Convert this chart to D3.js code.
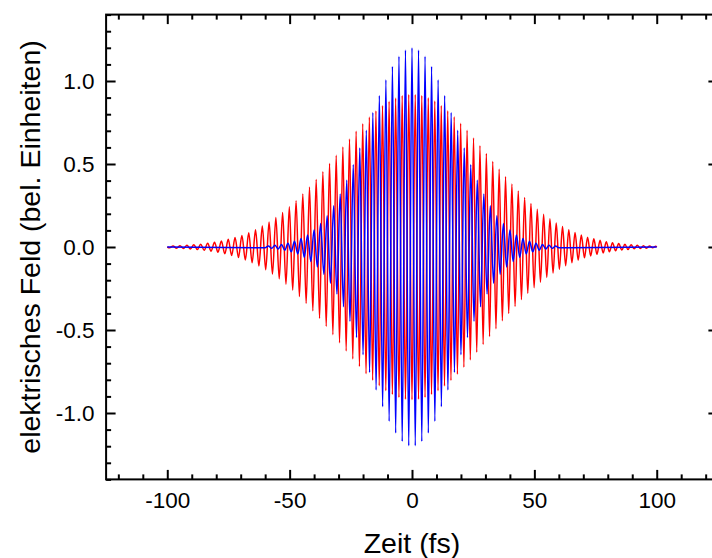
<!DOCTYPE html>
<html><head><meta charset="utf-8">
<script src="https://cdn.jsdelivr.net/npm/d3@7"></script>
<style>
body{margin:0;background:#fff;}
svg text{font-family:"Liberation Sans",Arial,sans-serif;fill:#000;}
</style>
</head><body>
<svg id="chart" width="712" height="558"></svg>
<script>
// ---- data (extrema of each oscillation, time in fs) ----
const blueTime = [-100, -60.01, -58.67, -57.34, -56.01, -54.67, -53.34, -52.01, -50.67, -49.34, -48.01, -46.67, -45.34, -44.01, -42.67, -41.34, -40.01, -38.67, -37.34, -36.01, -34.67, -33.34, -32.00, -30.67, -29.34, -28.00, -26.67, -25.34, -24.00, -22.67, -21.34, -20.00, -18.67, -17.34, -16.00, -14.67, -13.34, -12.00, -10.67, -9.34, -8.00, -6.67, -5.33, -4.00, -2.67, -1.33, 0, 1.33, 2.67, 4.00, 5.33, 6.67, 8.00, 9.34, 10.67, 12.00, 13.34, 14.67, 16.00, 17.34, 18.67, 20.00, 21.34, 22.67, 24.00, 25.34, 26.67, 28.00, 29.34, 30.67, 32.00, 33.34, 34.67, 36.01, 37.34, 38.67, 40.01, 41.34, 42.67, 44.01, 45.34, 46.67, 48.01, 49.34, 50.67, 52.01, 53.34, 54.67, 56.01, 57.34, 58.67, 60.01, 100];
const blueValue = [0, -0.005, 0.006, -0.008, 0.010, -0.012, 0.015, -0.019, 0.023, -0.029, 0.035, -0.042, 0.051, -0.061, 0.073, -0.087, 0.103, -0.121, 0.141, -0.164, 0.189, -0.218, 0.249, -0.283, 0.320, -0.360, 0.402, -0.448, 0.495, -0.545, 0.596, -0.649, 0.703, -0.756, 0.810, -0.862, 0.913, -0.962, 1.008, -1.050, 1.088, -1.121, 1.149, -1.171, 1.187, -1.197, 1.200, -1.197, 1.187, -1.171, 1.149, -1.121, 1.088, -1.050, 1.008, -0.962, 0.913, -0.862, 0.810, -0.756, 0.703, -0.649, 0.596, -0.545, 0.495, -0.448, 0.402, -0.360, 0.320, -0.283, 0.249, -0.218, 0.189, -0.164, 0.141, -0.121, 0.103, -0.087, 0.073, -0.061, 0.051, -0.042, 0.035, -0.029, 0.023, -0.019, 0.015, -0.012, 0.010, -0.008, 0.006, -0.005, 0];

const redTime = [-100,
 -99.05, -97.63, -96.21, -94.79, -93.38, -91.96, -90.55, -89.14, -87.73, -86.32,
 -84.91, -83.50, -82.10, -80.69, -79.29, -77.89, -76.49, -75.09, -73.69, -72.30,
 -70.90, -69.51, -68.11, -66.72, -65.33, -63.94, -62.56, -61.17, -59.78, -58.40,
 -57.02, -55.63, -54.25, -52.87, -51.50, -50.12, -48.74, -47.37, -46.00, -44.62,
 -43.25, -41.88, -40.52, -39.15, -37.78, -36.42, -35.05, -33.69, -32.33, -30.97,
 -29.61, -28.25, -26.90, -25.54, -24.19, -22.83, -21.48, -20.13, -18.78, -17.43,
 -16.08, -14.74, -13.39, -12.05, -10.70, -9.36, -8.02, -6.68, -5.34, -4.01,
 -2.67, -1.33, 0,
 1.33, 2.67, 4.00, 5.33, 6.65, 7.98, 9.31, 10.63, 11.96, 13.28,
 14.60, 15.92, 17.24, 18.56, 19.88, 21.20, 22.51, 23.83, 25.14, 26.45,
 27.77, 29.07, 30.38, 31.69, 33.00, 34.31, 35.61, 36.92, 38.22, 39.52,
 40.82, 42.12, 43.42, 44.72, 46.02, 47.31, 48.61, 49.90, 51.19, 52.49,
 53.78, 55.07, 56.36, 57.64, 58.93, 60.22, 61.50, 62.79, 64.07, 65.35,
 66.63, 67.91, 69.19, 70.47, 71.75, 73.02, 74.30, 75.57, 76.85, 78.12,
 79.39, 80.66, 81.93, 83.20, 84.47, 85.74, 87.00, 88.27, 89.53, 90.80,
 92.06, 93.32, 94.58, 95.84, 97.10, 98.36, 99.61,
 100];
const redValue = [0,
 -0.005, 0.006, -0.007, 0.008, -0.009, 0.010, -0.012, 0.013, -0.015, 0.017,
 -0.020, 0.022, -0.025, 0.029, -0.032, 0.036, -0.041, 0.046, -0.051, 0.057,
 -0.063, 0.070, -0.078, 0.086, -0.095, 0.104, -0.115, 0.126, -0.137, 0.150,
 -0.163, 0.177, -0.192, 0.208, -0.224, 0.242, -0.260, 0.279, -0.298, 0.319,
 -0.340, 0.361, -0.384, 0.407, -0.430, 0.454, -0.478, 0.503, -0.528, 0.552,
 -0.577, 0.602, -0.626, 0.650, -0.674, 0.697, -0.720, 0.742, -0.763, 0.783,
 -0.802, 0.820, -0.836, 0.852, -0.866, 0.878, -0.889, 0.898, -0.906, 0.912,
 -0.917, 0.919, -0.920,
 0.919, -0.917, 0.912, -0.906, 0.899, -0.889, 0.879, -0.866, 0.853, -0.838,
 0.821, -0.804, 0.785, -0.766, 0.746, -0.724, 0.703, -0.680, 0.657, -0.634,
 0.610, -0.587, 0.563, -0.539, 0.515, -0.492, 0.468, -0.445, 0.423, -0.401,
 0.379, -0.358, 0.337, -0.317, 0.298, -0.279, 0.262, -0.245, 0.228, -0.212,
 0.197, -0.183, 0.170, -0.157, 0.145, -0.134, 0.123, -0.113, 0.104, -0.095,
 0.087, -0.079, 0.072, -0.065, 0.059, -0.054, 0.049, -0.044, 0.040, -0.036,
 0.032, -0.029, 0.026, -0.023, 0.021, -0.018, 0.016, -0.015, 0.013, -0.011,
 0.010, -0.009, 0.008, -0.007, 0.006, -0.005, 0.005,
 0];

const xMajorTicks = [-100, -50, 0, 50, 100];
const xMinorTicks = [-120, -110, -90, -80, -70, -60, -40, -30, -20, -10, 10, 20, 30, 40, 60, 70, 80, 90, 110, 120];
const yMajorTicks = [-1.0, -0.5, 0.0, 0.5, 1.0];
const yMinorTicks = [-1.4, -1.3, -1.2, -1.1, -0.9, -0.8, -0.7, -0.6, -0.4, -0.3, -0.2, -0.1, 0.1, 0.2, 0.3, 0.4, 0.6, 0.7, 0.8, 0.9, 1.1, 1.2, 1.3, 1.4];
const xTitle = "Zeit (fs)";
const yTitle = "elektrisches Feld (bel. Einheiten)";

// ---- drawing ----
(function () {
const svg = d3.select("#chart");
const pL = 106.1, pR = 717.9, pT = 14.6, pB = 479.4;
const x = d3.scaleLinear().domain([-125, 125]).range([pL, pR]);
const y = d3.scaleLinear().domain([-1.4, 1.4]).range([pB, pT]);

const line = d3.line().x(d => x(d[0])).y(d => y(d[1])).curve(d3.curveMonotoneX);

svg.append("path").datum(d3.zip(redTime, redValue))
  .attr("d", line).attr("fill", "none").attr("stroke", "#ff0000")
  .attr("stroke-width", 1.5).attr("stroke-linejoin", "round");
svg.append("path").datum(d3.zip(blueTime, blueValue))
  .attr("d", line).attr("fill", "none").attr("stroke", "#0000ff")
  .attr("stroke-width", 1.5).attr("stroke-linejoin", "round");

const fmtY = d => d3.format(".1f")(d).replace("\u2212", "-");
const fmtX = d => d3.format("d")(d).replace("\u2212", "-");
function styleAxis(g) {
  g.select(".domain").remove();
  g.selectAll(".tick line").attr("stroke", "#000").attr("stroke-width", 2);
  g.selectAll("text").style("font-size", "22.5px").attr("fill", "#000");
}
// bottom
svg.append("g").attr("transform", `translate(0,${pB})`)
  .call(d3.axisBottom(x).tickValues(xMinorTicks).tickSize(-5).tickFormat("")).call(styleAxis);
svg.append("g").attr("transform", `translate(0,${pB})`)
  .call(d3.axisBottom(x).tickValues(xMajorTicks).tickSizeInner(-9.5).tickSizeOuter(0).tickPadding(13).tickFormat(fmtX)).call(styleAxis);
// top
svg.append("g").attr("transform", `translate(0,${pT})`)
  .call(d3.axisTop(x).tickValues(xMinorTicks).tickSize(-5).tickFormat("")).call(styleAxis);
svg.append("g").attr("transform", `translate(0,${pT})`)
  .call(d3.axisTop(x).tickValues(xMajorTicks).tickSize(-9.5).tickFormat("")).call(styleAxis);
// left
svg.append("g").attr("transform", `translate(${pL},0)`)
  .call(d3.axisLeft(y).tickValues(yMinorTicks).tickSize(-5).tickFormat("")).call(styleAxis);
svg.append("g").attr("transform", `translate(${pL},0)`)
  .call(d3.axisLeft(y).tickValues(yMajorTicks).tickSizeInner(-9.5).tickSizeOuter(0).tickPadding(11.5).tickFormat(fmtY)).call(styleAxis);
// right
svg.append("g").attr("transform", `translate(${pR},0)`)
  .call(d3.axisRight(y).tickValues(yMinorTicks).tickSize(-5).tickFormat("")).call(styleAxis);
svg.append("g").attr("transform", `translate(${pR},0)`)
  .call(d3.axisRight(y).tickValues(yMajorTicks).tickSize(-9.5).tickFormat("")).call(styleAxis);

// frame
svg.append("rect").attr("x", pL).attr("y", pT)
  .attr("width", pR - pL).attr("height", pB - pT)
  .attr("fill", "none").attr("stroke", "#000").attr("stroke-width", 2);

// titles
svg.append("text").attr("x", (x(-100) + x(100)) / 2).attr("y", 553)
  .attr("text-anchor", "middle").style("font-size", "28.5px").text(xTitle);
svg.append("text").attr("transform", `translate(40,${y(0)}) rotate(-90)`)
  .attr("text-anchor", "middle").style("font-size", "28.5px").text(yTitle);
})();
</script>
</body></html>
